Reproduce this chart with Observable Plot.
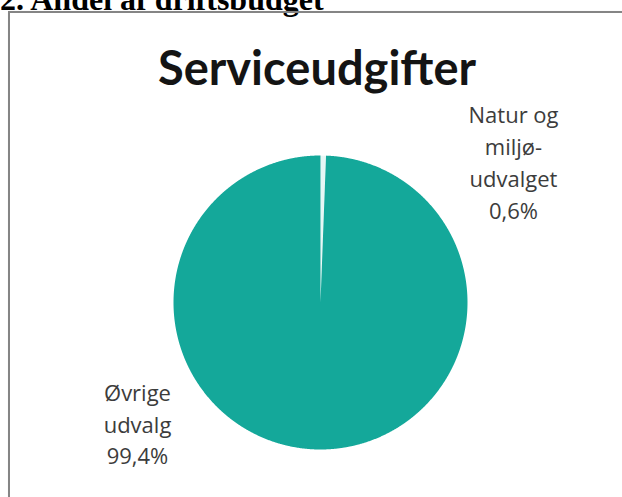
<!DOCTYPE html>
<html>
<head>
<meta charset="utf-8">
<script src="https://cdn.jsdelivr.net/npm/d3@7"></script>
<script src="https://cdn.jsdelivr.net/npm/@observablehq/plot@0.6"></script>
<style>
  html, body { margin: 0; padding: 0; background: #fff; }
  body { width: 622px; height: 497px; overflow: hidden; position: relative; }
  #heading { position: absolute; left: 0; top: -17px; font: bold 32px/33px "Liberation Serif", serif; color: #000; white-space: nowrap; }
  #frame { position: absolute; left: 8px; top: 11px; width: 700px; height: 600px; border: 2px solid #858585; box-shadow: 1px 1px 2px #cfcfcf; }
  #title { position: absolute; left: 0; width: 634px; top: 44px; text-align: center; font: bold 47px/46px Lato, sans-serif; color: #141414; white-space: nowrap; }
  #chart { position: absolute; left: 10px; top: 12px; }
</style>
</head>
<body>
<div id="heading">2. Andel af driftsbudget</div>
<div id="frame"></div>
<div id="chart"></div>
<div id="title">Serviceudgifter</div>
<script>
// ---- data ----
const categories = ["Natur og miljøudvalget", "Øvrige udvalg"];
const values = [0.6, 99.4];
const labelTexts = ["Natur og\nmiljø-\nudvalget\n0,6%", "Øvrige\nudvalg\n99,4%"];
const colors = ["#e6f7f5", "#14a89a"];

// label placement (in pie radii, relative to centre) — layout, not data
const labelPlacement = [[1.313, 0.966], [-1.245, -0.815]];

const table = categories.map((c, i) => ({category: c, value: values[i], label: labelTexts[i]}));

// build slice polygons from d3.pie angles (clockwise from 12 o'clock)
const arcs = d3.pie().sort(null).value(d => d.value)(table);
const step = Math.PI / 720;
const slices = arcs.map(a => {
  const ring = [[0, 0]];
  const n = Math.max(2, Math.ceil((a.endAngle - a.startAngle) / step));
  for (let k = 0; k <= n; k++) {
    const t = a.startAngle + (a.endAngle - a.startAngle) * k / n;
    ring.push([Math.sin(t), Math.cos(t)]);
  }
  ring.push([0, 0]);
  return {type: "Feature", properties: {category: a.data.category}, geometry: {type: "Polygon", coordinates: [ring]}};
});

const labels = table.map((d, i) => ({...d, lx: labelPlacement[i][0], ly: labelPlacement[i][1]}));

const chart = Plot.plot({
  width: 612,
  height: 485,
  marginLeft: 163,
  marginRight: 155,
  marginTop: 143,
  marginBottom: 48,
  projection: {type: "reflect-y", clip: false, domain: {type: "MultiPoint", coordinates: [[-1, -1], [1, 1]]}},
  color: {domain: categories, range: colors},
  style: {background: "transparent", overflow: "visible"},
  marks: [
    Plot.geo(slices, {fill: d => d.properties.category, stroke: d => d.properties.category === categories[0] ? "#ffffff" : "none", strokeWidth: 0.6}),
    Plot.text(labels, {x: "lx", y: "ly", text: "label", fontFamily: "Open Sans", fontSize: 22, lineHeight: 1.45, fill: "#3c3c3c", textAnchor: "middle", clip: false})
  ]
});
document.getElementById("chart").appendChild(chart);
</script>
</body>
</html>
